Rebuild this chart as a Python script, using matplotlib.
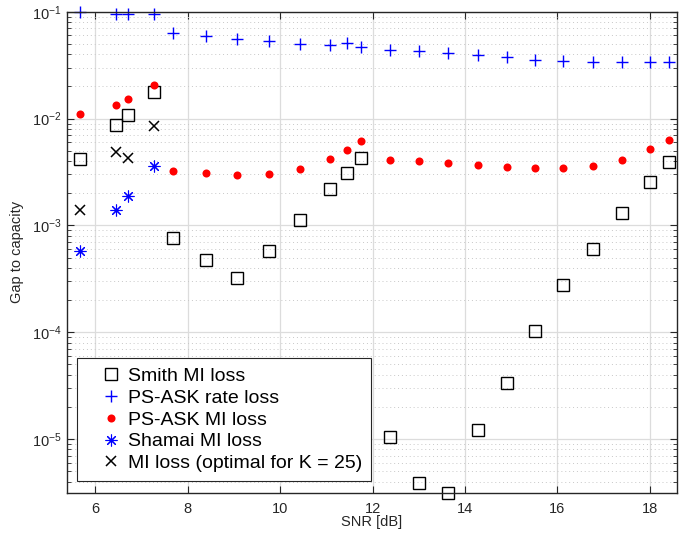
import matplotlib
matplotlib.use("Agg")
import matplotlib.pyplot as plt
import matplotlib.ticker as mticker

plt.rcParams["font.family"] = ["Liberation Sans", "DejaVu Sans"]
plt.rcParams["mathtext.default"] = "regular"

# SNR points [dB]
snr = [5.67, 6.45, 6.70, 7.26, 7.69, 8.40, 9.07, 9.75, 10.42, 11.08, 11.44, 11.75,
       12.37, 13.01, 13.64, 14.27, 14.90, 15.52, 16.13, 16.76, 17.39, 18.01, 18.41]

smith_mi = [4.16e-3, 8.66e-3, 1.07e-2, 1.77e-2, 7.7e-4, 4.7e-4, 3.19e-4, 5.8e-4,
            1.12e-3, 2.21e-3, 3.12e-3, 4.28e-3, 1.05e-5, 3.9e-6, 3.16e-6, 1.21e-5,
            3.33e-5, 1.03e-4, 2.79e-4, 5.96e-4, 1.32e-3, 2.53e-3, 3.89e-3]

psask_rate = [0.100, 0.0945, 0.0945, 0.0945, 0.0632, 0.0596, 0.0558, 0.0531,
              0.0502, 0.0487, 0.0510, 0.0473, 0.0441, 0.0425, 0.0410, 0.0393,
              0.0376, 0.0357, 0.0350, 0.0338, 0.0336, 0.0336, 0.0340]

psask_mi = [1.10e-2, 1.355e-2, 1.52e-2, 2.05e-2, 3.26e-3, 3.07e-3, 2.94e-3, 3.03e-3,
            3.35e-3, 4.22e-3, 5.09e-3, 6.12e-3, 4.13e-3, 3.98e-3, 3.81e-3, 3.68e-3,
            3.53e-3, 3.42e-3, 3.42e-3, 3.63e-3, 4.13e-3, 5.20e-3, 6.26e-3]

snr_low = [5.67, 6.45, 6.70, 7.26]
shamai_mi = [5.74e-4, 1.41e-3, 1.87e-3, 3.6e-3]
opt_k25 = [1.41e-3, 4.87e-3, 4.25e-3, 8.55e-3]

fig = plt.figure(figsize=(6.87, 5.36), dpi=100)
ax = fig.add_axes([0.097, 0.081, 0.888, 0.897])

ax.semilogy(snr, smith_mi, "s", mfc="none", mec="black", ms=8.5, mew=1.0,
            label="Smith MI loss", clip_on=False)
ax.semilogy(snr, psask_rate, "+", color="blue", ms=8.5, mew=1.0,
            label="PS-ASK rate loss", clip_on=False)
ax.semilogy(snr, psask_mi, "o", color="red", ms=5.8, mew=0,
            label="PS-ASK MI loss", clip_on=False)
ax.semilogy(snr_low, shamai_mi, marker=(8, 2, 0), ls="none", color="blue",
            ms=8.5, mew=0.8, label="Shamai MI loss", clip_on=False)
ax.semilogy(snr_low, opt_k25, "x", color="black", ms=6.5, mew=1.1,
            label="MI loss (optimal for K = 25)", clip_on=False)

ax.set_xlim(5.38, 18.58)
ax.set_ylim(3.16e-6, 0.1)
ax.set_xticks([6, 8, 10, 12, 14, 16, 18])
ax.yaxis.set_major_locator(mticker.LogLocator(base=10, numticks=10))
ax.yaxis.set_minor_locator(mticker.LogLocator(base=10, subs=range(2, 10), numticks=20))
ax.yaxis.set_minor_formatter(mticker.NullFormatter())

axcol = "#262626"
for s in ax.spines.values():
    s.set_color(axcol)
    s.set_linewidth(1.0)
ax.tick_params(which="both", direction="in", top=True, right=True,
               colors=axcol, labelsize=10.5)
ax.tick_params(which="major", length=5)
ax.tick_params(which="minor", length=3)
ax.tick_params(axis="x", which="minor", bottom=False, top=False)
ax.tick_params(axis="x", which="major", pad=7)

ax.grid(True, which="major", color="#dcdcdc", lw=0.9, ls="-")
ax.grid(True, which="minor", axis="y", color="#c8c8c8", lw=0.7, ls=(0, (1, 3)))
ax.set_axisbelow(True)

ax.set_xlabel("SNR [dB]", fontsize=10.5, color=axcol, labelpad=-1)
ax.set_ylabel("Gap to capacity", fontsize=10.5, color=axcol, labelpad=6)

leg = ax.legend(loc="lower left", bbox_to_anchor=(0.0165, 0.024), fontsize=14,
                frameon=True, fancybox=False, framealpha=1, edgecolor=axcol,
                borderpad=0.45, labelspacing=0.22, handletextpad=-0.45,
                handlelength=2.65, borderaxespad=0)
leg.get_frame().set_linewidth(0.8)

fig.savefig("out.png", dpi=100)
